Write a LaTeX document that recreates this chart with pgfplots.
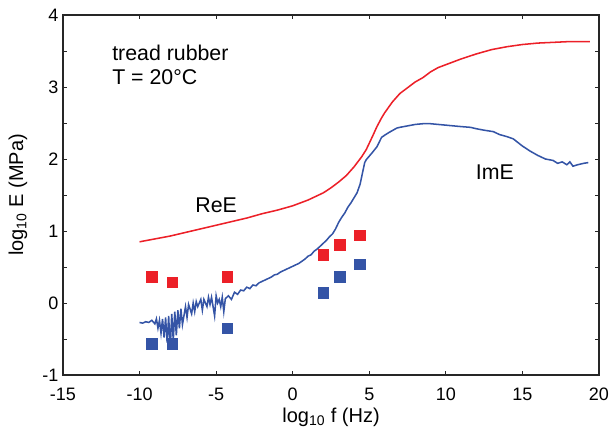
\documentclass[border=0pt]{standalone}
\usepackage{fontspec}
\setmainfont{Liberation Sans}
\usepackage{pgfplots}
\pgfplotsset{compat=1.18}
\definecolor{reRed}{RGB}{236,32,40}
\definecolor{imBlue}{RGB}{52,84,166}

\begin{document}
\begin{tikzpicture}
\useasboundingbox (-47.25pt,-45.75pt) rectangle (413.25pt,281.25pt);
\begin{axis}[
    scale only axis,
    width=402pt, height=270pt,
    xmin=-15, xmax=20,
    ymin=-1, ymax=4,
    xtick={-15,-10,...,20},
    ytick={-1,0,...,4},
    minor y tick num=1,
    tick align=inside,
    major tick length=3pt,
    minor tick length=3pt,
    axis line style={line width=0.9pt, black!85},
    every tick/.style={black!85, line width=0.7pt},
    /pgf/number format/assume math mode=true,
    tick label style={font=\fontsize{13.5}{15}\selectfont},
    xticklabel style={yshift=-6pt},
    label style={font=\fontsize{15}{17}\selectfont},
    xlabel={log\textsubscript{10} f (Hz)},
    ylabel={log\textsubscript{10} E (MPa)},
    xlabel style={at={(axis description cs:0.5,-0.118)}, anchor=center},
    ylabel style={at={(axis description cs:-0.084,0.5)}, anchor=center},
]
% ReE
\addplot[reRed, line width=1.15pt] coordinates {
(-10,0.85) (-9,0.89) (-8,0.93) (-7,0.98) (-6,1.03) (-5,1.08) (-4,1.13)
(-3,1.18) (-2,1.24) (-1,1.29) (0,1.35) (0.5,1.39) (1,1.43) (1.5,1.48)
(2,1.53) (2.5,1.60) (3,1.68) (3.5,1.77) (4,1.89) (4.5,2.03) (4.8,2.13)
(5,2.22) (5.2,2.31) (5.5,2.45) (5.8,2.57) (6,2.64) (6.5,2.79) (7,2.91)
(7.5,2.99) (8,3.07) (8.5,3.13) (9,3.21) (9.5,3.27) (10,3.31) (10.5,3.35)
(11,3.39) (12,3.46) (13,3.52) (14,3.56) (15,3.59) (16,3.61) (17,3.62)
(18,3.63) (19.4,3.63)
};
% ImE
\addplot[imBlue, line width=1.15pt] coordinates {
(-10.0,-0.27) (-9.8,-0.28) (-9.6,-0.26) (-9.4,-0.27) (-9.2,-0.24) (-9.0,-0.29)
(-8.9,-0.22) (-8.8,-0.35) (-8.7,-0.24) (-8.6,-0.42) (-8.5,-0.22) (-8.4,-0.48)
(-8.3,-0.20) (-8.2,-0.55) (-8.1,-0.18) (-8.0,-0.65) (-7.9,-0.15) (-7.8,-0.52)
(-7.7,-0.12) (-7.6,-0.45) (-7.5,-0.10) (-7.4,-0.35) (-7.3,-0.08) (-7.2,-0.30)
(-7.0,-0.05) (-6.9,-0.20) (-6.8,-0.02) (-6.6,-0.15) (-6.5,0.00) (-6.4,-0.12)
(-6.3,0.02) (-6.2,-0.05) (-6.0,0.05) (-5.9,-0.10) (-5.8,0.05) (-5.6,-0.05)
(-5.5,0.08) (-5.4,-0.02) (-5.3,0.08) (-5.1,-0.18) (-5.0,0.10) (-4.9,0.0)
(-4.8,0.05) (-4.7,-0.05) (-4.6,0.08) (-4.5,-0.12) (-4.4,0.06) (-4.2,0.10)
(-4.0,0.05) (-3.8,0.15) (-3.6,0.12) (-3.4,0.18) (-3.2,0.17) (-3.0,0.22)
(-2.8,0.20) (-2.6,0.25) (-2.4,0.24) (-2.2,0.28) (-2.0,0.30) (-1.8,0.32)
(-1.6,0.34) (-1.4,0.36) (-1.2,0.39) (-1.0,0.40) (-0.8,0.43) (-0.6,0.45)
(-0.4,0.47) (-0.2,0.49) (0.0,0.51) (0.2,0.53) (0.4,0.55) (0.6,0.58)
(0.8,0.61) (1.0,0.65) (1.2,0.67) (1.4,0.72) (1.6,0.75) (1.8,0.79)
(2.0,0.83) (2.2,0.87) (2.4,0.92) (2.6,0.96) (2.8,1.03) (3.0,1.12)
(3.2,1.19) (3.4,1.25) (3.6,1.33) (3.8,1.39) (4.0,1.46) (4.2,1.53)
(4.4,1.65) (4.6,1.85) (4.7,1.95) (4.8,1.99) (5.0,2.04) (5.2,2.09)
(5.5,2.17) (5.8,2.30) (6.0,2.33) (6.3,2.37) (6.8,2.43) (7.0,2.44)
(7.5,2.46) (8.0,2.48) (8.5,2.49) (9.0,2.49) (9.5,2.48) (10.0,2.47)
(10.5,2.46) (11.0,2.45) (11.6,2.44) (12.0,2.42) (12.5,2.40) (13.1,2.38)
(13.5,2.34) (14.0,2.31) (14.4,2.28) (15.0,2.18) (15.5,2.11) (16.0,2.05)
(16.5,2.00) (17.0,1.98) (17.3,1.94) (17.6,1.96) (17.9,1.92) (18.1,1.96)
(18.3,1.90) (18.6,1.92) (19.0,1.94) (19.3,1.95)
};
% measured points
\addplot[only marks, mark=square*, mark size=4pt, reRed] coordinates {
(-9.21,0.36) (-7.86,0.29) (-4.27,0.36) (2.0,0.67) (3.09,0.81) (4.40,0.94)
};
\addplot[only marks, mark=square*, mark size=4pt, imBlue] coordinates {
(-9.21,-0.57) (-7.86,-0.57) (-4.27,-0.35) (2.0,0.14) (3.09,0.36) (4.40,0.54)
};
\node[font=\fontsize{16}{18}\selectfont, align=left, anchor=north west, inner sep=0pt]
    at (axis cs:-11.8,3.58) {tread rubber\\T = 20°C};
\node[font=\fontsize{16}{18}\selectfont] at (axis cs:-5.0,1.36) {ReE};
\node[font=\fontsize{16}{18}\selectfont] at (axis cs:13.2,1.82) {ImE};
\end{axis}
\end{tikzpicture}
\end{document}
